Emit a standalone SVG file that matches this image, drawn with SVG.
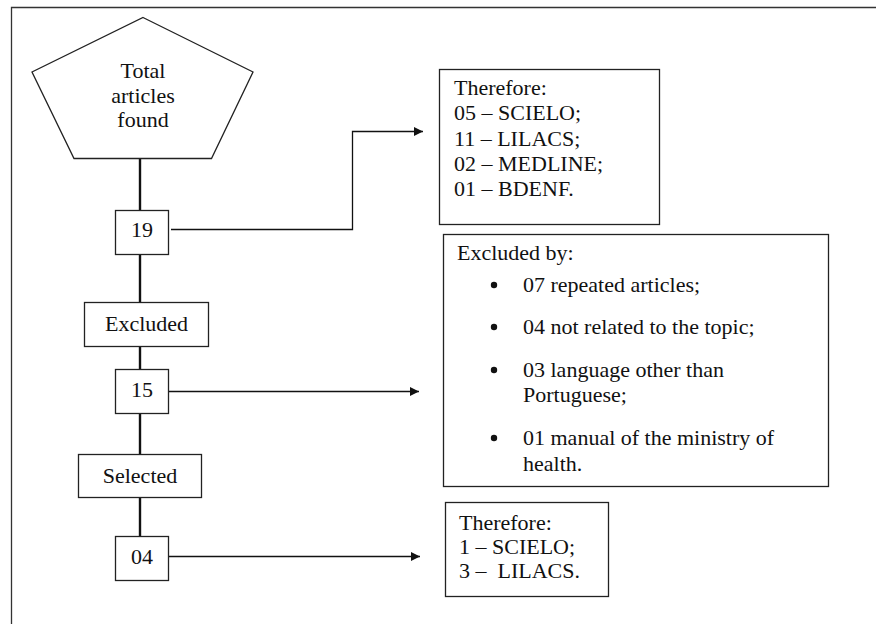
<svg xmlns="http://www.w3.org/2000/svg" width="876" height="624" viewBox="0 0 876 624">
<style>
.t{font-family:'Liberation Serif',Tinos,'Times New Roman',Times,'DejaVu Serif',serif;font-size:22px;fill:#111}
.c{text-anchor:middle}
.box{fill:#fff;stroke:#222;stroke-width:1.3}
.trunk{stroke:#111;stroke-width:2.4;fill:none}
.arr{stroke:#111;stroke-width:1.3;fill:none;marker-end:url(#ah)}
</style>
<defs>
<marker id="ah" viewBox="0 0 10 10" refX="10" refY="5" markerWidth="11" markerHeight="9" markerUnits="userSpaceOnUse" orient="auto">
<path d="M0,0 L10,5 L0,10 z" fill="#111"/>
</marker>
</defs>
<rect width="876" height="624" fill="#fff"/>
<path d="M11.5,640 V7.5 H880" fill="none" stroke="#333" stroke-width="1.3"/>
<g id="connectors">
<line class="trunk" x1="140" y1="158" x2="140" y2="210"/>
<line class="trunk" x1="140" y1="254" x2="140" y2="303"/>
<line class="trunk" x1="140" y1="346" x2="140" y2="369"/>
<line class="trunk" x1="140" y1="413" x2="140" y2="454"/>
<line class="trunk" x1="140" y1="497" x2="140" y2="536"/>
<path class="arr" d="M171,229.5 H352.5 V131.5 H423" stroke="#555"/>
<path class="arr" d="M167,391.5 H419"/>
<path class="arr" d="M169,556.5 H420"/>
</g>
<g id="total" class="t">
<polygon class="box" points="143,17.5 253,72 211.5,158.5 74,158.5 32,72"/>
<text class="t c" x="143" y="78">Total</text>
<text class="t c" x="143" y="103">articles</text>
<text class="t c" x="143" y="127">found</text>
</g>
<g id="n19">
<rect class="box" x="115.5" y="210.5" width="53" height="44"/>
<text class="t c" x="142" y="237">19</text>
</g>
<g id="excluded">
<rect class="box" x="84.5" y="302.5" width="124" height="44"/>
<text class="t c" x="146.5" y="331">Excluded</text>
</g>
<g id="n15">
<rect class="box" x="115.5" y="369.5" width="53" height="44"/>
<text class="t c" x="142" y="397">15</text>
</g>
<g id="selected">
<rect class="box" x="78.5" y="454.5" width="123" height="43"/>
<text class="t c" x="140" y="483">Selected</text>
</g>
<g id="n04">
<rect class="box" x="115.5" y="536.5" width="53" height="44"/>
<text class="t c" x="142" y="564">04</text>
</g>
<g id="therefore1">
<rect class="box" x="439.5" y="69.5" width="220" height="155"/>
<text class="t" x="454" y="95">Therefore:</text>
<text class="t" x="454" y="120">05 – SCIELO;</text>
<text class="t" x="454" y="146">11 – LILACS;</text>
<text class="t" x="454" y="171">02 – MEDLINE;</text>
<text class="t" x="454" y="196">01 – BDENF.</text>
</g>
<g id="excludedby">
<rect class="box" x="443.5" y="234.5" width="385" height="252" stroke-width="1.8"/>
<text class="t" x="457" y="260">Excluded by:</text>
<circle cx="494" cy="285" r="3.2" fill="#111"/>
<text class="t" x="523" y="292">07 repeated articles;</text>
<circle cx="494" cy="327" r="3.2" fill="#111"/>
<text class="t" x="523" y="334">04 not related to the topic;</text>
<circle cx="494" cy="370" r="3.2" fill="#111"/>
<text class="t" x="523" y="377">03 language other than</text>
<text class="t" x="523" y="402">Portuguese;</text>
<circle cx="494" cy="438" r="3.2" fill="#111"/>
<text class="t" x="523" y="445">01 manual of the ministry of</text>
<text class="t" x="523" y="471">health.</text>
</g>
<g id="therefore2">
<rect class="box" x="445.5" y="502.5" width="163" height="94"/>
<text class="t" x="459" y="530">Therefore:</text>
<text class="t" x="459" y="554">1 – SCIELO;</text>
<text class="t" x="459" y="578" xml:space="preserve">3 –  LILACS.</text>
</g>
</svg>
